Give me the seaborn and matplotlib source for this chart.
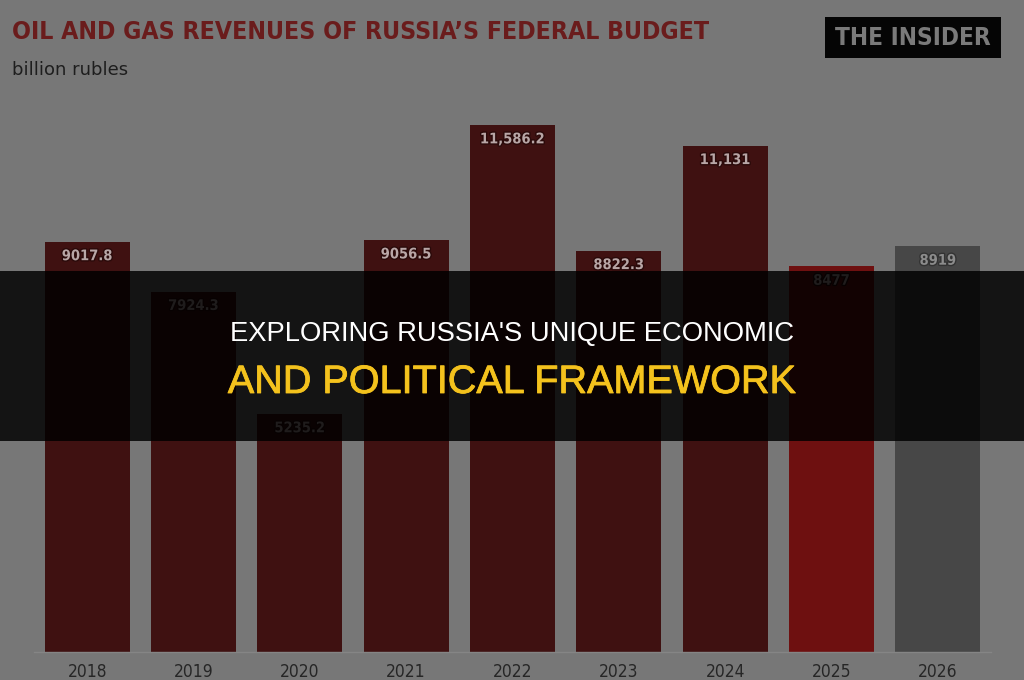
import matplotlib
matplotlib.use('Agg')
import matplotlib.pyplot as plt
import matplotlib.patches as mpatches
import matplotlib.patheffects as pe
import seaborn as sns

# data
years = ['2018', '2019', '2020', '2021', '2022', '2023', '2024', '2025', '2026']
revenues = [9017.8, 7924.3, 5235.2, 9056.5, 11586.2, 8822.3, 11131, 8477, 8919]
value_labels = ['9017.8', '7924.3', '5235.2', '9056.5', '11,586.2', '8822.3', '11,131', '8477', '8919']
bar_colors = ['#3f1111'] * 7 + ['#6e1010', '#474747']

sns.set_style('white')
plt.rcParams['font.family'] = ['DejaVu Sans']

fig = plt.figure(figsize=(10.24, 6.8), dpi=100)
fig.patch.set_facecolor('#777777')
ax = fig.add_axes([34 / 1024, 28 / 680, 957 / 1024, 552 / 680])
ax.set_facecolor('#777777')

sns.barplot(x=years, y=revenues, hue=years, palette=bar_colors, legend=False,
            width=0.8, saturation=1, linewidth=0, ax=ax)
ax.set_xlim(-0.5, 8.5)
ax.set_ylim(0, 12135)
ax.set_yticks([])
ax.set_xlabel('')
ax.set_ylabel('')
for s in ['top', 'left', 'right']:
    ax.spines[s].set_visible(False)
ax.spines['bottom'].set_color('#858585')
ax.spines['bottom'].set_linewidth(1.0)
ax.tick_params(axis='x', length=0, pad=8, labelsize=12.5, labelcolor='#262626')
for t in ax.get_xticklabels():
    t.set_fontstretch('condensed')

# value labels inside the bar tops
for i, (v, lab) in enumerate(zip(revenues, value_labels)):
    col = '#8c8c8c' if i == 8 else '#b8a6a6'
    glow = '#333333' if i == 8 else '#2a0a0a'
    ax.annotate(lab, (i, v), xytext=(0, -10), textcoords='offset points',
                ha='center', va='center', fontsize=10.5, fontweight='bold',
                color=col, fontstretch='condensed',
                path_effects=[pe.withStroke(linewidth=2, foreground=glow)])

# header
fig.text(12 / 1024, 1 - 32 / 680, 'OIL AND GAS REVENUES OF RUSSIA\u2019S FEDERAL BUDGET',
         fontsize=17.8, fontweight='bold', color='#6a1c1c', va='center', ha='left',
         fontstretch='condensed')
fig.text(12 / 1024, 1 - 70 / 680, 'billion rubles', fontsize=13, color='#1e1e1e',
         va='center', ha='left')

# logo
fig.patches.append(mpatches.Rectangle((825 / 1024, 1 - 58 / 680), 176 / 1024, 41 / 680,
                                      transform=fig.transFigure, facecolor='#050505',
                                      edgecolor='none', zorder=3))
fig.text(913 / 1024, 1 - 38 / 680, 'THE INSIDER', fontsize=17.5, fontweight='bold',
         color='#7a7a7a', ha='center', va='center', zorder=4, fontstretch='condensed')

# dark banner across the middle
fig.patches.append(mpatches.Rectangle((0, 1 - 441 / 680), 1, 170 / 680,
                                      transform=fig.transFigure, facecolor='black',
                                      alpha=0.83, edgecolor='none', zorder=5))
fig.text(0.5, 1 - 334 / 680, "EXPLORING RUSSIA'S UNIQUE ECONOMIC", fontsize=19.7,
         color='white', ha='center', va='center', zorder=6, family=['Liberation Sans'])
fig.text(0.5, 1 - 382 / 680, 'AND POLITICAL FRAMEWORK', fontsize=28.5,
         color='#f4c21d', ha='center', va='center', zorder=6, family=['Liberation Sans'],
         path_effects=[pe.withStroke(linewidth=0.6, foreground='#f4c21d')])

fig.savefig('out.png', dpi=100, facecolor=fig.get_facecolor())
